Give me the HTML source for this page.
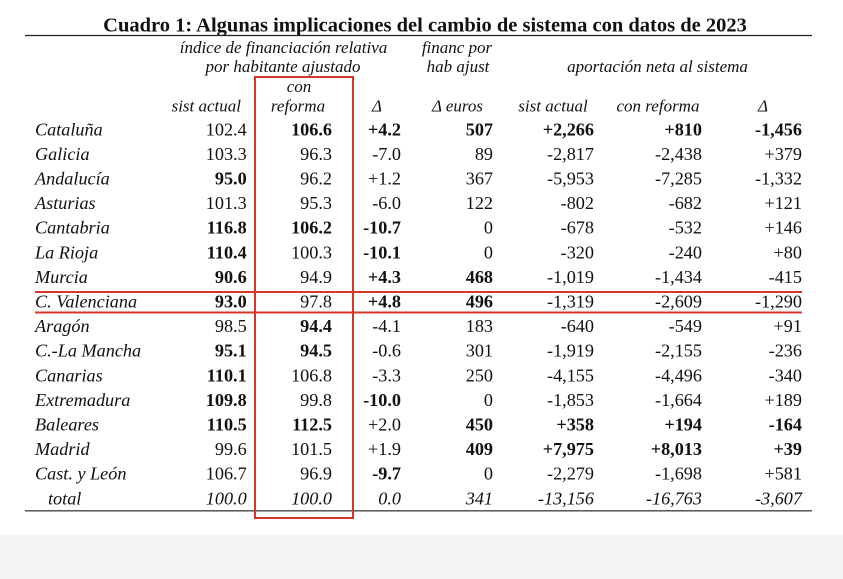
<!DOCTYPE html>
<html>
<head>
<meta charset="utf-8">
<style>
html,body{margin:0;padding:0;background:#fff;}
svg{display:block;}
text{font-family:"Liberation Serif","Times New Roman",serif;fill:#111;}
.t{font-size:20.5px;font-weight:bold;}
.h{font-size:17px;font-style:italic;}
.n{font-size:18.2px;font-style:italic;}
.v{font-size:18.2px;}
.b{font-weight:bold;}
.i{font-style:italic;}
</style>
</head>
<body>
<svg width="843" height="579" viewBox="0 0 843 579" xmlns="http://www.w3.org/2000/svg">
<rect x="0" y="0" width="843" height="579" fill="#fff"/>
<rect x="0" y="535" width="843" height="44" fill="#f5f5f5"/>

<text class="t" x="425" y="31.7" text-anchor="middle">Cuadro 1: Algunas implicaciones del cambio de sistema con datos de 2023</text>
<line x1="25" y1="35.5" x2="812" y2="35.5" stroke="#222" stroke-width="1.2"/>

<!-- headers -->
<text class="h" x="283.5" y="53" text-anchor="middle">índice de financiación relativa</text>
<text class="h" x="283" y="72" text-anchor="middle">por habitante ajustado</text>
<text class="h" x="457" y="53" text-anchor="middle">financ por</text>
<text class="h" x="458" y="72" text-anchor="middle">hab ajust</text>
<text class="h" x="657.5" y="72" text-anchor="middle">aportación neta al sistema</text>
<text class="h" x="299" y="92" text-anchor="middle">con</text>
<text class="h" x="241" y="111.7" text-anchor="end">sist actual</text>
<text class="h" x="298" y="111.7" text-anchor="middle">reforma</text>
<text class="h" x="377" y="111.7" text-anchor="middle">Δ</text>
<text class="h" x="457.5" y="111.7" text-anchor="middle">Δ euros</text>
<text class="h" x="553" y="111.7" text-anchor="middle">sist actual</text>
<text class="h" x="658" y="111.7" text-anchor="middle">con reforma</text>
<text class="h" x="763" y="111.7" text-anchor="middle">Δ</text>

<!-- rows -->
<g class="v">
<!-- row 0 y=135.3 -->
<text class="n" x="35" y="135.3">Cataluña</text>
<text x="246.7" y="135.3" text-anchor="end">102.4</text>
<text class="b" x="332" y="135.3" text-anchor="end">106.6</text>
<text class="b" x="401" y="135.3" text-anchor="end">+4.2</text>
<text class="b" x="493" y="135.3" text-anchor="end">507</text>
<text class="b" x="594" y="135.3" text-anchor="end">+2,266</text>
<text class="b" x="702" y="135.3" text-anchor="end">+810</text>
<text class="b" x="802" y="135.3" text-anchor="end">-1,456</text>

<text class="n" x="35" y="159.9">Galicia</text>
<text x="246.7" y="159.9" text-anchor="end">103.3</text>
<text x="332" y="159.9" text-anchor="end">96.3</text>
<text x="401" y="159.9" text-anchor="end">-7.0</text>
<text x="493" y="159.9" text-anchor="end">89</text>
<text x="594" y="159.9" text-anchor="end">-2,817</text>
<text x="702" y="159.9" text-anchor="end">-2,438</text>
<text x="802" y="159.9" text-anchor="end">+379</text>

<text class="n" x="35" y="184.5">Andalucía</text>
<text class="b" x="246.7" y="184.5" text-anchor="end">95.0</text>
<text x="332" y="184.5" text-anchor="end">96.2</text>
<text x="401" y="184.5" text-anchor="end">+1.2</text>
<text x="493" y="184.5" text-anchor="end">367</text>
<text x="594" y="184.5" text-anchor="end">-5,953</text>
<text x="702" y="184.5" text-anchor="end">-7,285</text>
<text x="802" y="184.5" text-anchor="end">-1,332</text>

<text class="n" x="35" y="209.1">Asturias</text>
<text x="246.7" y="209.1" text-anchor="end">101.3</text>
<text x="332" y="209.1" text-anchor="end">95.3</text>
<text x="401" y="209.1" text-anchor="end">-6.0</text>
<text x="493" y="209.1" text-anchor="end">122</text>
<text x="594" y="209.1" text-anchor="end">-802</text>
<text x="702" y="209.1" text-anchor="end">-682</text>
<text x="802" y="209.1" text-anchor="end">+121</text>

<text class="n" x="35" y="233.7">Cantabria</text>
<text class="b" x="246.7" y="233.7" text-anchor="end">116.8</text>
<text class="b" x="332" y="233.7" text-anchor="end">106.2</text>
<text class="b" x="401" y="233.7" text-anchor="end">-10.7</text>
<text x="493" y="233.7" text-anchor="end">0</text>
<text x="594" y="233.7" text-anchor="end">-678</text>
<text x="702" y="233.7" text-anchor="end">-532</text>
<text x="802" y="233.7" text-anchor="end">+146</text>

<text class="n" x="35" y="258.3">La Rioja</text>
<text class="b" x="246.7" y="258.3" text-anchor="end">110.4</text>
<text x="332" y="258.3" text-anchor="end">100.3</text>
<text class="b" x="401" y="258.3" text-anchor="end">-10.1</text>
<text x="493" y="258.3" text-anchor="end">0</text>
<text x="594" y="258.3" text-anchor="end">-320</text>
<text x="702" y="258.3" text-anchor="end">-240</text>
<text x="802" y="258.3" text-anchor="end">+80</text>

<text class="n" x="35" y="282.9">Murcia</text>
<text class="b" x="246.7" y="282.9" text-anchor="end">90.6</text>
<text x="332" y="282.9" text-anchor="end">94.9</text>
<text class="b" x="401" y="282.9" text-anchor="end">+4.3</text>
<text class="b" x="493" y="282.9" text-anchor="end">468</text>
<text x="594" y="282.9" text-anchor="end">-1,019</text>
<text x="702" y="282.9" text-anchor="end">-1,434</text>
<text x="802" y="282.9" text-anchor="end">-415</text>

<text class="n" x="35" y="307.5">C. Valenciana</text>
<text class="b" x="246.7" y="307.5" text-anchor="end">93.0</text>
<text x="332" y="307.5" text-anchor="end">97.8</text>
<text class="b" x="401" y="307.5" text-anchor="end">+4.8</text>
<text class="b" x="493" y="307.5" text-anchor="end">496</text>
<text x="594" y="307.5" text-anchor="end">-1,319</text>
<text x="702" y="307.5" text-anchor="end">-2,609</text>
<text x="802" y="307.5" text-anchor="end">-1,290</text>

<text class="n" x="35" y="332.1">Aragón</text>
<text x="246.7" y="332.1" text-anchor="end">98.5</text>
<text class="b" x="332" y="332.1" text-anchor="end">94.4</text>
<text x="401" y="332.1" text-anchor="end">-4.1</text>
<text x="493" y="332.1" text-anchor="end">183</text>
<text x="594" y="332.1" text-anchor="end">-640</text>
<text x="702" y="332.1" text-anchor="end">-549</text>
<text x="802" y="332.1" text-anchor="end">+91</text>

<text class="n" x="35" y="356.7">C.-La Mancha</text>
<text class="b" x="246.7" y="356.7" text-anchor="end">95.1</text>
<text class="b" x="332" y="356.7" text-anchor="end">94.5</text>
<text x="401" y="356.7" text-anchor="end">-0.6</text>
<text x="493" y="356.7" text-anchor="end">301</text>
<text x="594" y="356.7" text-anchor="end">-1,919</text>
<text x="702" y="356.7" text-anchor="end">-2,155</text>
<text x="802" y="356.7" text-anchor="end">-236</text>

<text class="n" x="35" y="381.3">Canarias</text>
<text class="b" x="246.7" y="381.3" text-anchor="end">110.1</text>
<text x="332" y="381.3" text-anchor="end">106.8</text>
<text x="401" y="381.3" text-anchor="end">-3.3</text>
<text x="493" y="381.3" text-anchor="end">250</text>
<text x="594" y="381.3" text-anchor="end">-4,155</text>
<text x="702" y="381.3" text-anchor="end">-4,496</text>
<text x="802" y="381.3" text-anchor="end">-340</text>

<text class="n" x="35" y="405.9">Extremadura</text>
<text class="b" x="246.7" y="405.9" text-anchor="end">109.8</text>
<text x="332" y="405.9" text-anchor="end">99.8</text>
<text class="b" x="401" y="405.9" text-anchor="end">-10.0</text>
<text x="493" y="405.9" text-anchor="end">0</text>
<text x="594" y="405.9" text-anchor="end">-1,853</text>
<text x="702" y="405.9" text-anchor="end">-1,664</text>
<text x="802" y="405.9" text-anchor="end">+189</text>

<text class="n" x="35" y="430.5">Baleares</text>
<text class="b" x="246.7" y="430.5" text-anchor="end">110.5</text>
<text class="b" x="332" y="430.5" text-anchor="end">112.5</text>
<text x="401" y="430.5" text-anchor="end">+2.0</text>
<text class="b" x="493" y="430.5" text-anchor="end">450</text>
<text class="b" x="594" y="430.5" text-anchor="end">+358</text>
<text class="b" x="702" y="430.5" text-anchor="end">+194</text>
<text class="b" x="802" y="430.5" text-anchor="end">-164</text>

<text class="n" x="35" y="455.1">Madrid</text>
<text x="246.7" y="455.1" text-anchor="end">99.6</text>
<text x="332" y="455.1" text-anchor="end">101.5</text>
<text x="401" y="455.1" text-anchor="end">+1.9</text>
<text class="b" x="493" y="455.1" text-anchor="end">409</text>
<text class="b" x="594" y="455.1" text-anchor="end">+7,975</text>
<text class="b" x="702" y="455.1" text-anchor="end">+8,013</text>
<text class="b" x="802" y="455.1" text-anchor="end">+39</text>

<text class="n" x="35" y="479.7">Cast. y León</text>
<text x="246.7" y="479.7" text-anchor="end">106.7</text>
<text x="332" y="479.7" text-anchor="end">96.9</text>
<text class="b" x="401" y="479.7" text-anchor="end">-9.7</text>
<text x="493" y="479.7" text-anchor="end">0</text>
<text x="594" y="479.7" text-anchor="end">-2,279</text>
<text x="702" y="479.7" text-anchor="end">-1,698</text>
<text x="802" y="479.7" text-anchor="end">+581</text>

<text class="n" x="48" y="504.3">total</text>
<text class="i" x="246.7" y="504.3" text-anchor="end">100.0</text>
<text class="i" x="332" y="504.3" text-anchor="end">100.0</text>
<text class="i" x="401" y="504.3" text-anchor="end">0.0</text>
<text class="i" x="493" y="504.3" text-anchor="end">341</text>
<text class="i" x="594" y="504.3" text-anchor="end">-13,156</text>
<text class="i" x="702" y="504.3" text-anchor="end">-16,763</text>
<text class="i" x="802" y="504.3" text-anchor="end">-3,607</text>
</g>

<line x1="25" y1="510.8" x2="812" y2="510.8" stroke="#444" stroke-width="1.3"/>

<!-- red highlights -->
<line x1="35" y1="292" x2="802" y2="292" stroke="#d7362b" stroke-width="2"/>
<line x1="35" y1="312.5" x2="802" y2="312.5" stroke="#d7362b" stroke-width="2"/>
<rect x="255" y="77" width="98" height="441" fill="none" stroke="#d7362b" stroke-width="2"/>
</svg>
</body>
</html>
